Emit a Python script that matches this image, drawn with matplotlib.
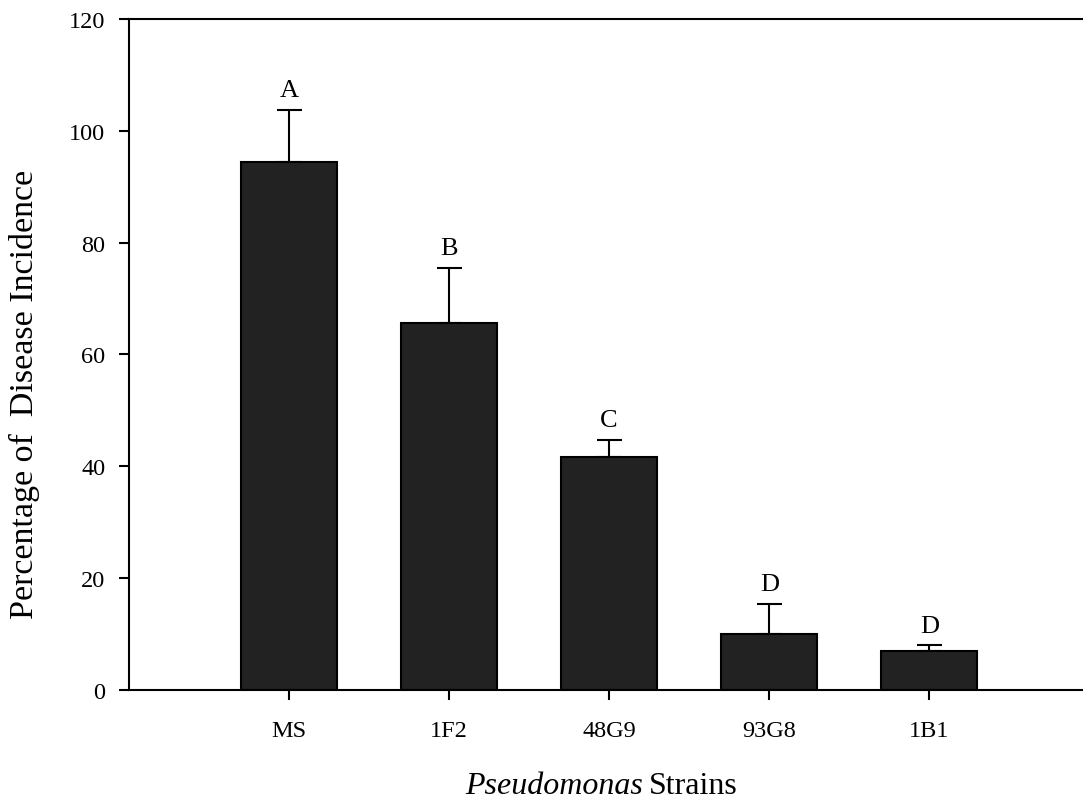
import numpy as np
import matplotlib.pyplot as plt

plt.rcParams['font.family'] = ['Liberation Serif', 'DejaVu Serif']

strains = ["MS", "1F2", "48G9", "93G8", "1B1"]
incidence = [94.4, 65.6, 41.7, 10.0, 7.0]
errors = [9.4, 9.9, 3.0, 5.4, 0.9]
letters = ["A", "B", "C", "D", "D"]

fig = plt.figure(figsize=(10.83, 8.04), dpi=100)
ax = fig.add_axes([0.119, 0.141, 0.881, 0.834])

x = np.arange(len(strains))
ax.bar(x, incidence, width=0.6, color="#222222", edgecolor="black", linewidth=1.5, zorder=2)
ax.errorbar(x, incidence, yerr=[np.zeros(len(x)), errors], fmt="none",
            ecolor="black", elinewidth=1.5, capsize=9, capthick=1.5, zorder=1)

for xi, v, e, lab in zip(x, incidence, errors, letters):
    ax.text(xi, v + e + 1.5, lab, ha="center", va="bottom", fontsize=19)

ax.set_xlim(-1, 4.96)
ax.set_ylim(0, 120)
ax.set_yticks(np.arange(0, 121, 20))
ax.set_xticks(x)
ax.set_xticklabels(strains)
ax.tick_params(axis="both", direction="out", length=7, width=1.5, labelsize=17.5)
ax.tick_params(axis="x", pad=15)
ax.tick_params(axis="y", pad=10)

for s in ["left", "bottom", "top"]:
    ax.spines[s].set_linewidth(1.5)
ax.spines["right"].set_visible(False)

# x label with italic genus name
fig.text(0.5935, 0.012, "Pseudomonas", fontsize=23, fontstyle="italic", ha="right", va="baseline")
fig.text(0.5995, 0.012, "Strains", fontsize=23, ha="left", va="baseline")

ax.set_ylabel("Percentage of  Disease Incidence", fontsize=24.5)
ax.yaxis.set_label_coords(-0.093, 0.441)

fig.savefig("out.png", dpi=100)
